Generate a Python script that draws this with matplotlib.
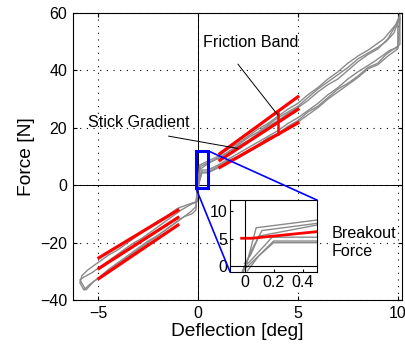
import matplotlib
matplotlib.use("Agg")
import matplotlib.pyplot as plt
from matplotlib.patches import Rectangle, ConnectionPatch

plt.rcParams['font.family'] = ['Liberation Sans', 'DejaVu Sans']

# gray hysteresis loops, positive side
pos1_x = [0, 0.02, 0.08, 0.5, 1.0, 1.5, 2.0, 2.5, 3.0, 3.5, 4.0, 4.5, 5.0, 5.5, 6.0, 6.5, 7.0, 7.5, 8.0, 8.5, 9.0, 9.3, 9.6, 9.9, 10.1,
          10.1, 10.0, 9.6, 9.3, 8.8, 8.0, 7.5, 7.0, 6.5, 6.0, 5.5, 5.0, 4.5, 4.0, 3.5, 3.0, 2.5, 2.0, 1.5, 1.0, 0.5, 0.19, 0.145, 0.04, 0]
pos1_y = [-0.5, 1, 7, 8.4, 10, 12.5, 14.5, 17, 19.5, 21.5, 24, 26.5, 28.5, 31.5, 34, 37, 39.5, 42.5, 45, 47, 49.5, 51, 53.5, 56, 59.5,
          58, 48, 47, 45.5, 43, 39.5, 37, 34, 31.5, 28.5, 26, 23.5, 21.5, 19, 17, 15, 13, 11, 9, 7, 5.3, 5.3, 4, 1, 0]
pos2_x = [0, 0.04, 0.1, 0.5, 1.0, 1.5, 2.0, 2.5, 3.0, 3.5, 4.0, 4.5, 5.0, 5.5, 6.0, 6.5, 7.0, 7.5, 8.0, 8.5, 9.0, 9.4, 9.8, 10.1,
          10.1, 9.8, 9.4, 9.0, 8.5, 8.0, 7.5, 7.0, 6.5, 6.0, 5.5, 5.0, 4.5, 4.0, 3.5, 3.0, 2.5, 2.0, 1.5, 1.0, 0.5, 0.2, 0.1, 0.02]
pos2_y = [0.5, 2, 5.5, 7.5, 9.5, 11.5, 14, 16.5, 18.5, 21, 23.5, 25.5, 27.5, 30.5, 33.5, 36, 38.5, 41, 44, 46, 48, 50, 53, 58.5,
          49, 47.5, 45.5, 42.5, 41, 38, 35.5, 33.5, 30.5, 27.5, 25.5, 22.5, 20.5, 18, 16.5, 14, 12, 10, 8.5, 6.5, 4.6, 4.6, 2, -0.8]
pos3_x = [0, 0.05, 0.12, 0.5, 1.0, 1.5, 2.0, 2.5, 3.0, 3.5, 4.0, 4.5, 5.0, 5.5, 6.0, 6.5, 7.0, 7.5, 8.0, 8.5, 9.0, 9.5, 10.0,
          10.0, 9.5, 9.0, 8.5, 8.0, 7.5, 7.0, 6.5, 6.0, 5.5, 5.0, 4.5, 4.0, 3.5, 3.0, 2.5, 2.0, 1.5, 1.0, 0.5, 0.2, 0.08, 0]
pos3_y = [0, 3, 6.5, 7.8, 9.2, 11.5, 13.5, 15.5, 18, 20.5, 22.5, 25, 27, 29.5, 32.5, 35, 37, 40, 43, 45.5, 47.5, 51, 57,
          47.5, 45, 42, 40.5, 37.5, 35, 32.5, 30, 27, 24.5, 22, 20, 17.5, 15.5, 13.5, 11.5, 9.5, 8, 6, 4.3, 4.3, 1.5, -0.5]

# gray loops, negative side
neg1_x = [0, -0.1, -0.3, -0.7, -1.0, -1.5, -2.0, -2.5, -3.0, -3.5, -4.0, -4.5, -5.0, -5.4, -5.7, -5.9,
          -5.8, -5.5, -5.0, -4.5, -4.0, -3.5, -3.0, -2.5, -2.0, -1.5, -1.0, -0.6, -0.2, -0.05, 0]
neg1_y = [0, -8.7, -10, -11, -12.5, -15, -17.5, -19.5, -22, -24.5, -27, -29.5, -32.5, -34.5, -36.5, -34,
          -31.5, -29.5, -27, -24.5, -22.5, -20, -17.5, -15, -12.5, -10.5, -8, -7, -6, -5.8, 0]
neg2_x = [0, -0.1, -0.4, -0.8, -1.2, -1.7, -2.2, -2.7, -3.2, -3.7, -4.2, -4.7, -5.2, -5.6, -5.9,
          -5.7, -5.3, -4.8, -4.3, -3.8, -3.3, -2.8, -2.3, -1.8, -1.3, -0.8, -0.3, -0.1, 0]
neg2_y = [0, -7.5, -9.5, -11.5, -13.5, -16, -18.5, -21, -23.5, -26, -28.5, -31, -33.5, -36.5, -33,
          -32, -30.5, -28, -25.5, -23, -20.5, -18.5, -16, -13.5, -11, -8.5, -6.5, -6, 0]

# red friction band lines
band_pos_x = [1.1, 5.0]
band_pos_hi = [11.0, 30.8]
band_pos_mid = [8.7, 26.4]
band_pos_lo = [6.2, 21.7]
band_neg_x = [-4.95, -1.0]
band_neg_hi = [-25.3, -8.7]
band_neg_mid = [-29.0, -11.3]
band_neg_lo = [-32.5, -13.9]
band_mark_x = [4.0, 4.0]
band_mark_y = [18.0, 25.3]

# breakout force line (inset)
breakout_x = [-0.02, 0.05, 0.5]
breakout_y = [5.1, 5.1, 6.3]

fig = plt.figure(figsize=(4.05, 3.49), dpi=100)
ax = fig.add_axes([0.180, 0.1404, 0.8123, 0.8224])

gray = '#8a8a8a'
loops = [(pos1_x, pos1_y), (pos2_x, pos2_y), (pos3_x, pos3_y), (neg1_x, neg1_y), (neg2_x, neg2_y)]
for lx, ly in loops:
    ax.plot(lx, ly, color=gray, lw=1.0, zorder=2)

red = '#ff0000'
for yy in (band_pos_hi, band_pos_mid, band_pos_lo):
    ax.plot(band_pos_x, yy, color=red, lw=2.3, zorder=3)
for yy in (band_neg_hi, band_neg_mid, band_neg_lo):
    ax.plot(band_neg_x, yy, color=red, lw=2.3, zorder=3)
ax.plot(band_mark_x, band_mark_y, color=red, lw=1.8, zorder=3)

ax.axhline(0, color='k', lw=0.7, zorder=1)
ax.axvline(0, color='k', lw=0.7, zorder=1)

ax.set_xlim(-6.25, 10.2)
ax.set_ylim(-40, 60)
ax.set_xticks([-5, 0, 5, 10])
ax.set_yticks([-40, -20, 0, 20, 40, 60])
ax.grid(True, color='k', linestyle=(0, (1, 5)), lw=0.8)
ax.tick_params(direction='in', length=3, labelsize=11.5, top=True, right=True, pad=4)
ax.set_xticklabels(['\u22125', '0', '5', '10'])
ax.set_yticklabels(['\u221240', '\u221220', '0', '20', '40', '60'])
ax.set_xlabel('Deflection [deg]', fontsize=13.8, labelpad=2)
ax.set_ylabel('Force [N]', fontsize=13.8, labelpad=4)

# annotations
ax.text(2.65, 49.8, 'Friction Band', fontsize=11.6, ha='center', va='center')
ax.annotate('', xy=(4.0, 24.4), xytext=(2.0, 42.2),
            arrowprops=dict(arrowstyle='-', color='k', lw=0.7, shrinkA=0, shrinkB=0))
ax.text(-2.95, 22.0, 'Stick Gradient', fontsize=11.6, ha='center', va='center')
ax.annotate('', xy=(2.0, 12.8), xytext=(-1.47, 17.1),
            arrowprops=dict(arrowstyle='-', color='k', lw=0.7, shrinkA=0, shrinkB=0))
ax.text(6.7, -19.8, 'Breakout\nForce', fontsize=11.6, ha='left', va='center', linespacing=1.25)

# inset
axins = fig.add_axes([0.568, 0.2206, 0.215, 0.206])
for lx, ly in loops:
    axins.plot(lx, ly, color=gray, lw=1.0)
axins.plot(breakout_x, breakout_y, color=red, lw=2.0)
axins.axhline(0, color='k', lw=0.8)
axins.axvline(0, color='k', lw=0.8)
axins.set_xlim(-0.1, 0.5)
axins.set_ylim(-1, 12)
axins.set_xticks([0, 0.2, 0.4])
axins.set_yticks([0, 5, 10])
axins.set_xticklabels(['0', '0.2', '0.4'])
axins.tick_params(direction='in', length=2, labelsize=11.5, pad=2)

blue = '#0000ff'
ax.add_patch(Rectangle((-0.1, -1), 0.6, 13, fill=False, ec=blue, lw=2.2, zorder=4))
c1 = ConnectionPatch(xyA=(0.5, 12), coordsA=ax.transData, xyB=(0.5, 12), coordsB=axins.transData,
                     color=blue, lw=1.2)
c2 = ConnectionPatch(xyA=(-0.1, -1), coordsA=ax.transData, xyB=(-0.1, -1), coordsB=axins.transData,
                     color=blue, lw=1.2)
fig.add_artist(c1)
fig.add_artist(c2)

fig.savefig('out.png', dpi=100)
